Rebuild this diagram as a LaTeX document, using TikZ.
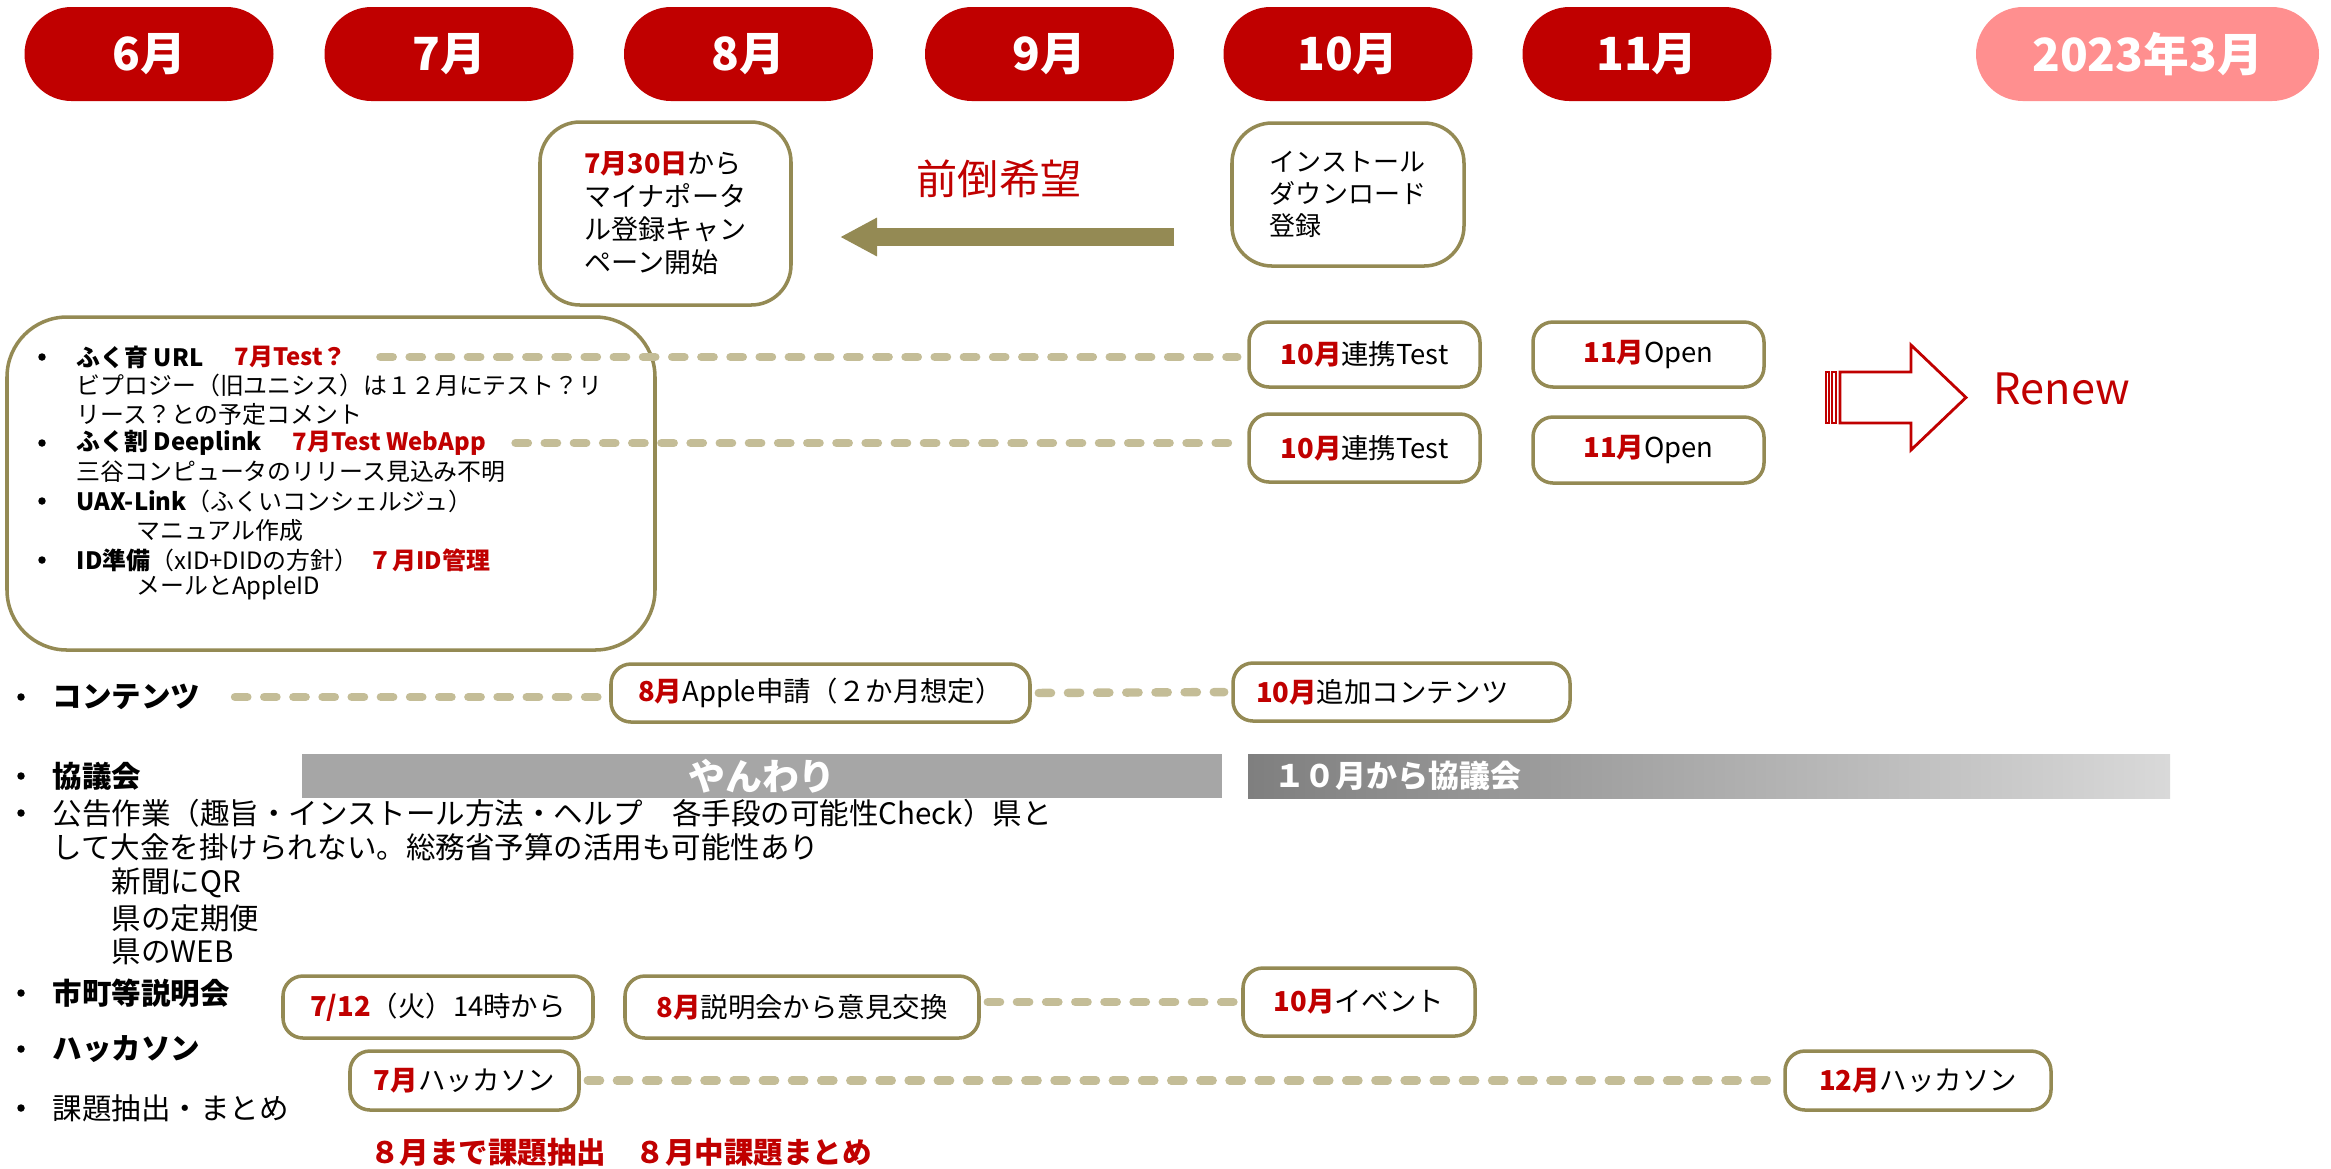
\documentclass[tikz,border=0pt]{standalone}
\usepackage{fontspec}
\setmainfont{Noto Sans CJK JP}
\usetikzlibrary{positioning, arrows.meta}

\definecolor{mred}{HTML}{C00000}
\definecolor{mpink}{HTML}{FF8F8F}
\definecolor{boxline}{HTML}{948A54}
\definecolor{dashc}{HTML}{C4BD97}
\definecolor{barg}{HTML}{A6A6A6}
\definecolor{barl}{HTML}{7F7F7F}
\definecolor{barr}{HTML}{D9D9D9}
\newcommand{\redt}[1]{\textcolor{mred}{\bfseries #1}}

\begin{document}
\begin{tikzpicture}[
  month/.style={fill=mred, text=white, rounded corners=0.47cm, minimum width=2.49cm, minimum height=0.94cm, inner sep=0, font=\bfseries\fontsize{13}{15}\selectfont},
  box/.style={draw=boxline, line width=1pt, fill=white, rounded corners=0.2cm, inner sep=0, font=\fontsize{7.8}{9.5}\selectfont},
  link/.style={draw=dashc, line width=2.4pt, line cap=round, dash pattern=on 3.5pt off 4.8pt},
  txt/.style={anchor=west, inner sep=0, font=\fontsize{8.4}{10}\selectfont},
  small/.style={anchor=west, inner sep=0, font=\fontsize{6.8}{8}\selectfont},
  dot/.style={circle, fill=black, inner sep=0, minimum size=0.075cm},
  bar/.style={inner sep=0, text=white, minimum height=0.44cm, font=\bfseries\fontsize{10.5}{12}\selectfont}]
\useasboundingbox (0,0) rectangle (23.31,-11.68);

% months
\node[month] (m6) at (1.49,-0.54) {6月};
\node[month] (m7) at (4.49,-0.54) {7月};
\node[month] (m8) at (7.485,-0.54) {8月};
\node[month] (m9) at (10.495,-0.54) {9月};
\node[month] (m10) at (13.48,-0.54) {10月};
\node[month] (m11) at (16.47,-0.54) {11月};
\node[month, fill=mpink, minimum width=3.43cm] (m3) at (21.475,-0.54) {2023年3月};

\node[box, rounded corners=0.4cm, minimum width=2.51cm, minimum height=1.83cm, align=left, font=\fontsize{7.7}{9.4}\selectfont] (camp) at (6.655,-2.135) {\redt{7月30日}から\\マイナポータ\\ル登録キャン\\ペーン開始};
\node[text=mred, font=\fontsize{11.7}{14}\selectfont] (mae) at (9.99,-1.79) {前倒希望};
\coordinate (fa) at (11.74,-2.37);
\coordinate (fb) at (8.40,-2.37);
\draw[boxline, line width=0.18cm, -{Triangle[length=0.37cm, width=0.36cm]}] (fa) -- (fb);
\node[box, rounded corners=0.4cm, minimum width=2.32cm, minimum height=1.43cm, align=left, font=\fontsize{7.4}{9.1}\selectfont] (inst) at (13.48,-1.945) {インストール\\ダウンロード\\登録};

% apps
\node[box, rounded corners=0.6cm, minimum width=6.48cm, minimum height=3.33cm] (apps) at (3.31,-4.835) {};
\node[dot] (d1) at (0.42,-3.57) {};
\node[small] (a1) at (0.76,-3.57) {\bfseries ふく育 URL};
\node[small] (t1) at (2.34,-3.57) {\redt{7月Test？}};
\node[small] (a2) at (0.76,-3.85) {ビプロジー（旧ユニシス）は１２月にテスト？リ};
\node[small] (a3) at (0.76,-4.14) {リース？との予定コメント};
\node[dot] (d2) at (0.42,-4.43) {};
\node[small] (a4) at (0.76,-4.43) {\bfseries ふく割 Deeplink};
\node[small] (t2) at (2.92,-4.43) {\redt{7月Test WebApp}};
\node[small] (a5) at (0.76,-4.72) {三谷コンピュータのリリース見込み不明};
\node[dot] (d3) at (0.42,-5.01) {};
\node[small] (a6) at (0.76,-5.01) {\textbf{UAX-Link}（ふくいコンシェルジュ）};
\node[small] (a7) at (1.36,-5.30) {マニュアル作成};
\node[dot] (d4) at (0.42,-5.60) {};
\node[small] (a8) at (0.76,-5.60) {\textbf{ID準備}（xID+DIDの方針）};
\node[small] (t3) at (3.68,-5.60) {\redt{７月ID管理}};
\node[small] (a9) at (1.36,-5.88) {メールとAppleID};

\node[box, minimum width=2.31cm, minimum height=0.65cm] (k1) at (13.645,-3.545) {\redt{10月}連携Test};
\node[box, minimum width=2.31cm, minimum height=0.65cm] (o1) at (16.485,-3.545) {\redt{11月}Open};
\node[box, minimum width=2.31cm, minimum height=0.68cm] (k2) at (13.645,-4.48) {\redt{10月}連携Test};
\node[box, minimum width=2.31cm, minimum height=0.66cm] (o2) at (16.485,-4.50) {\redt{11月}Open};
\draw[link, shorten <=0.33cm, shorten >=0.1cm] (t1.east) -- (t1.east -| k1.west);
\draw[link, shorten <=0.29cm, shorten >=0.05cm] (t2.east) -- (t2.east -| k2.west);

% renew
\draw[mred, line width=0.8pt, fill=white] (18.40,-3.72) -- (19.11,-3.72) -- (19.11,-3.45) -- (19.66,-3.975) -- (19.11,-4.50) -- (19.11,-4.23) -- (18.40,-4.23) -- cycle;
\draw[mred, line width=0.8pt] (18.26,-3.72) rectangle (18.29,-4.23);
\draw[mred, line width=0.8pt] (18.32,-3.72) rectangle (18.36,-4.23);
\node[text=mred, font=\fontsize{12.3}{14}\selectfont] (renew) at (20.62,-3.89) {Renew};

% contents
\node[dot] (d5) at (0.21,-6.97) {};
\node[txt] (c0) at (0.52,-6.97) {\bfseries コンテンツ};
\node[box, minimum width=4.19cm, minimum height=0.58cm] (apple) at (8.205,-6.93) {\redt{8月}Apple申請（２か月想定）};
\node[box, minimum width=3.37cm, minimum height=0.58cm, text width=2.91cm, align=left] (add) at (14.015,-6.92) {\redt{10月}追加コンテンツ};
\draw[link, shorten <=0.34cm, shorten >=0.08cm] (c0.east) -- (c0.east -| apple.west);
\draw[link, shorten <=0.07cm, shorten >=0.07cm] (apple.east) -- (add.west);

% council
\node[dot] (d6) at (0.21,-7.76) {};
\node[txt] (c1) at (0.52,-7.76) {\bfseries 協議会};
\node[bar, fill=barg, minimum width=9.20cm] (yawa) at (7.62,-7.76) {やんわり};
\node[bar, left color=barl, right color=barr, minimum width=9.22cm, text width=8.70cm, align=left, font=\bfseries\fontsize{8.8}{10}\selectfont] (kyo) at (17.09,-7.76) {１０月から協議会};

\node[dot] (d7) at (0.21,-8.13) {};
\node[txt] (c2) at (0.52,-8.13) {公告作業（趣旨・インストール方法・ヘルプ　各手段の可能性Check）県と};
\node[txt] (c3) at (0.52,-8.47) {して大金を掛けられない。総務省予算の活用も可能性あり};
\node[txt] (c4) at (1.11,-8.83) {新聞にQR};
\node[txt] (c5) at (1.11,-9.18) {県の定期便};
\node[txt] (c6) at (1.11,-9.52) {県のWEB};

% briefing
\node[dot] (d8) at (0.21,-9.93) {};
\node[txt] (c7) at (0.52,-9.93) {\bfseries 市町等説明会};
\node[box, minimum width=3.10cm, minimum height=0.62cm] (s1) at (4.38,-10.07) {\redt{7/12}（火）14時から};
\node[box, minimum width=3.54cm, minimum height=0.62cm] (s2) at (8.02,-10.07) {\redt{8月}説明会から意見交換};
\node[box, minimum width=2.32cm, minimum height=0.68cm] (s3) at (13.59,-10.02) {\redt{10月}イベント};
\draw[link, shorten <=0.07cm, shorten >=0.07cm] (s3.west -| s2.east) -- (s3.west);

% hackathon
\node[dot] (d9) at (0.21,-10.49) {};
\node[txt] (c8) at (0.52,-10.49) {\bfseries ハッカソン};
\node[box, minimum width=2.29cm, minimum height=0.59cm] (h1) at (4.645,-10.805) {\redt{7月}ハッカソン};
\node[box, minimum width=2.66cm, minimum height=0.59cm] (h2) at (19.18,-10.805) {\redt{12月}ハッカソン};
\draw[link, shorten <=0.07cm, shorten >=0.07cm] (h1) -- (h2);

\node[dot] (d10) at (0.21,-11.08) {};
\node[txt] (c9) at (0.52,-11.08) {課題抽出・まとめ};
\node[text=mred, inner sep=0, font=\bfseries\fontsize{8.4}{10}\selectfont] (goal) at (6.21,-11.52) {８月まで課題抽出　８月中課題まとめ};
\end{tikzpicture}
\end{document}
